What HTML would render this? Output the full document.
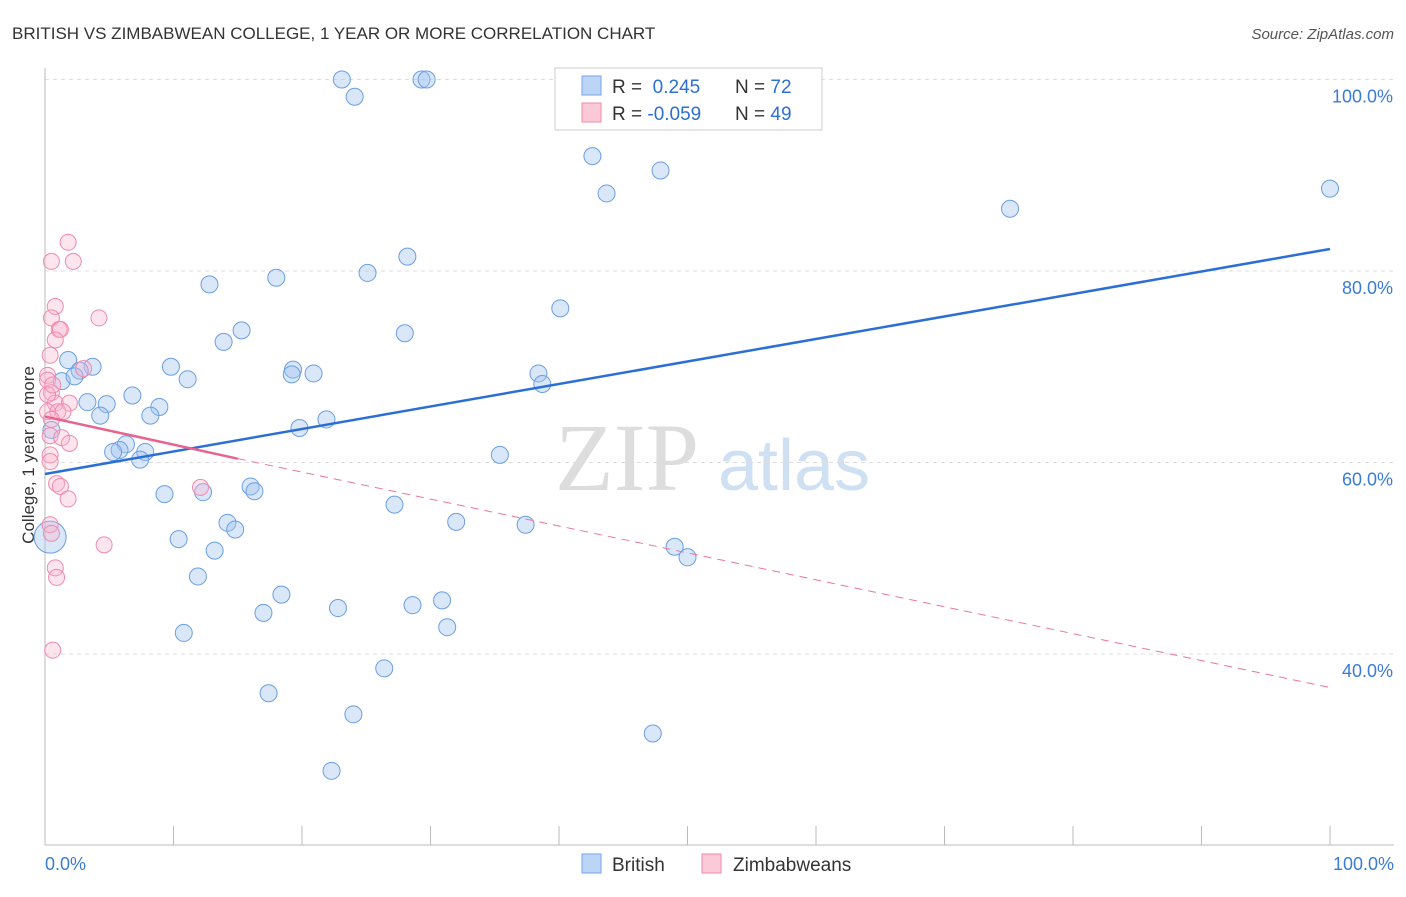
<!DOCTYPE html>
<html><head><meta charset="utf-8"><style>
body{margin:0;background:#fff;font-family:"Liberation Sans",sans-serif;}
</style></head><body>
<svg id="c" width="1406" height="892" xmlns="http://www.w3.org/2000/svg" style="font-family:'Liberation Sans',sans-serif">
<text x="12" y="39" font-size="17" fill="#333">BRITISH VS ZIMBABWEAN COLLEGE, 1 YEAR OR MORE CORRELATION CHART</text>
<text x="1394" y="39" font-size="15" fill="#555" font-style="italic" text-anchor="end">Source: ZipAtlas.com</text>
<text x="555" y="490" font-size="96" fill="#ddd" font-family="Liberation Serif">ZIP</text>
<text x="718" y="490" font-size="72" fill="#cfe0f3">atlas</text>
<text transform="translate(34,455) rotate(-90)" font-size="17" fill="#333" text-anchor="middle">College, 1 year or more</text>
<g id="grid"></g><g id="marks"></g>
<g>
<rect x="555" y="68" width="267" height="62" fill="#fff" stroke="#ccc"/>
<rect x="582" y="76" width="19" height="19" fill="#bcd4f5" stroke="#7aa6e6"/>
<rect x="582" y="103" width="19" height="19" fill="#fcc9d8" stroke="#f08aab"/>
<text x="612" y="93" font-size="19" fill="#333">R = <tspan fill="#2d6fd6">&#160;0.245</tspan><tspan x="735">N = </tspan><tspan fill="#2d6fd6">72</tspan></text>
<text x="612" y="120" font-size="19" fill="#333">R = <tspan fill="#2d6fd6">-0.059</tspan><tspan x="735">N = </tspan><tspan fill="#2d6fd6">49</tspan></text>
</g>
<g>
<rect x="582" y="854" width="19" height="19" fill="#bcd4f5" stroke="#7aa6e6"/>
<text x="612" y="871" font-size="19" fill="#333">British</text>
<rect x="702" y="854" width="19" height="19" fill="#fcc9d8" stroke="#f08aab"/>
<text x="733" y="871" font-size="19" fill="#333">Zimbabweans</text>
</g>
</svg>
<script>
const yTicks=[40,60,80,100];
const xTickLabels=["0.0%","100.0%"];
const blueX=[23.1,24.1,29.3,29.7,52.0,42.6,43.7,47.9,75.1,100,28.2,25.1,18.0,12.8,40.1,28.0,15.3,13.9,1.8,3.7,2.7,1.3,2.3,9.8,11.1,19.3,19.2,20.9,38.4,38.7,6.8,3.3,4.8,8.9,4.3,8.2,21.9,19.8,6.3,5.8,5.3,7.8,7.4,35.4,9.3,16.0,16.3,12.3,27.2,14.2,14.8,32.0,37.4,10.4,13.2,49.0,50.0,11.9,18.4,17.0,22.8,28.6,30.9,31.3,10.8,26.4,17.4,24.0,47.3,22.3,0.4,0.5];
const blueY=[100,98.2,100,100,100,92.0,88.1,90.5,86.5,88.6,81.5,79.8,79.3,78.6,76.1,73.5,73.8,72.6,70.7,70.0,69.6,68.5,69.0,70.0,68.7,69.7,69.2,69.3,69.3,68.2,67.0,66.3,66.1,65.8,64.9,64.9,64.5,63.6,61.9,61.3,61.1,61.1,60.3,60.8,56.7,57.5,57.0,56.9,55.6,53.7,53.0,53.8,53.5,52.0,50.8,51.2,50.1,48.1,46.2,44.3,44.8,45.1,45.6,42.8,42.2,38.5,35.9,33.7,31.7,27.8,52.2,63.4];
const pinkX=[0.5,1.8,2.2,0.8,0.5,1.1,1.2,0.8,4.2,3.0,0.4,0.2,0.2,0.5,0.8,1.9,0.2,1.0,1.4,0.5,0.4,1.3,1.9,0.4,0.4,0.9,1.2,1.8,12.1,4.6,0.4,0.5,0.8,0.9,0.6,0.2,0.6];
const pinkY=[81.0,83.0,81.0,76.3,75.1,73.9,73.9,72.8,75.1,69.8,71.2,69.1,68.6,67.3,66.2,66.2,65.3,65.3,65.3,64.5,62.8,62.6,62.0,60.8,60.1,57.8,57.5,56.2,57.4,51.4,53.5,52.6,49.0,48.0,40.4,67.1,68.1];
const blueTrend=[[0,58.8],[100,82.3]];
const pinkTrend=[[0,64.8],[15,60.4],[100,36.5]];
const X=v=>45+v*12.85, Y=v=>79.5+(100-v)*9.575;
const NS="http://www.w3.org/2000/svg";
function mk(t,a,p){const e=document.createElementNS(NS,t);for(const k in a)e.setAttribute(k,a[k]);p.appendChild(e);return e;}
const g=document.getElementById('grid'), m=document.getElementById('marks');
yTicks.forEach(t=>{
 const l=mk('line',{x1:45,x2:1394,y1:Y(t),y2:Y(t),stroke:'#ddd','stroke-dasharray':'4,4'},g);
 
 
 const tx=mk('text',{x:1393,y:Y(t)+23,'font-size':18,fill:'#3a7bd5','text-anchor':'end'},g);
 tx.textContent=t.toFixed(1)+'%';
 
 
});
const ax=mk('line',{x1:45,x2:1394,y1:845,y2:845,stroke:'#bbb'},g);


const ay=mk('line',{x1:45,x2:45,y1:68,y2:845,stroke:'#bbb'},g);


for(let i=0;i<=10;i++){const t=mk('line',{x1:X(i*10),x2:X(i*10),y1:826,y2:845,stroke:'#bbb'},g);
 
 }
[[0,'start',45],[1,'end',1394]].forEach(([i,a,x])=>{const t=mk('text',{x:x,y:870,'font-size':18,fill:'#3a7bd5','text-anchor':a},g);t.textContent=xTickLabels[i];
 
 });
blueX.forEach((v,i)=>{const c=mk('circle',{cx:X(v),cy:Y(blueY[i]),r:(i==70?16:8.5),fill:'rgba(160,195,240,0.4)',stroke:'#6a9fe3','stroke-width':1},m);
 
 });
pinkX.forEach((v,i)=>{const c=mk('circle',{cx:X(v),cy:Y(pinkY[i]),r:8,fill:'rgba(248,180,205,0.35)',stroke:'#f08aab','stroke-width':1},m);
 
 });
const bt=mk('line',{x1:X(blueTrend[0][0]),y1:Y(blueTrend[0][1]),x2:X(blueTrend[1][0]),y2:Y(blueTrend[1][1]),stroke:'#2b6fd6','stroke-width':2.5},m);


const pt=mk('line',{x1:X(pinkTrend[0][0]),y1:Y(pinkTrend[0][1]),x2:X(pinkTrend[1][0]),y2:Y(pinkTrend[1][1]),stroke:'#e8648f','stroke-width':2.5},m);


const pd=mk('line',{x1:X(pinkTrend[1][0]),y1:Y(pinkTrend[1][1]),x2:X(pinkTrend[2][0]),y2:Y(pinkTrend[2][1]),stroke:'#e8789c','stroke-width':1,'stroke-dasharray':'8,6'},m);


</script>
</body></html>
